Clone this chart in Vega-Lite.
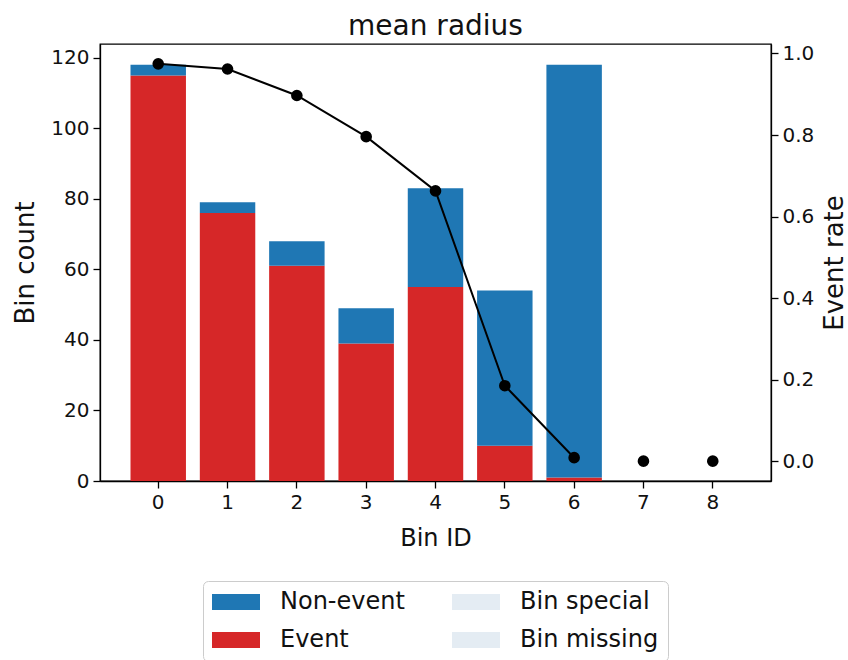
{
  "$schema": "https://vega.github.io/schema/vega-lite/v6.json",
  "width": 671,
  "height": 437,
  "autosize": {"type": "none"},
  "padding": {"left": 100, "top": 44, "right": 77, "bottom": 179},
  "background": "white",
  "config": {
    "font": "DejaVu Sans",
    "view": {"stroke": "#000", "strokeWidth": 1.3},
    "axis": {
      "grid": false,
      "domainColor": "#000",
      "domainWidth": 1.3,
      "tickColor": "#000",
      "tickWidth": 1.3,
      "tickSize": 7,
      "labelColor": "#111",
      "titleColor": "#111",
      "labelFontSize": 20,
      "titleFontSize": 26,
      "titleFontWeight": "normal",
      "labelPadding": 4,
      "labelFont": "DejaVu Sans",
      "titleFont": "DejaVu Sans"
    }
  },
  "title": {"text": "mean radius", "fontSize": 28, "fontWeight": "normal", "color": "#111", "font": "DejaVu Sans", "offset": 2},
  "datasets": {
    "counts": [
      {"bin": 0, "type": "Event", "count": 115},
      {"bin": 0, "type": "Non-event", "count": 3},
      {"bin": 1, "type": "Event", "count": 76},
      {"bin": 1, "type": "Non-event", "count": 3},
      {"bin": 2, "type": "Event", "count": 61},
      {"bin": 2, "type": "Non-event", "count": 7},
      {"bin": 3, "type": "Event", "count": 39},
      {"bin": 3, "type": "Non-event", "count": 10},
      {"bin": 4, "type": "Event", "count": 55},
      {"bin": 4, "type": "Non-event", "count": 28},
      {"bin": 5, "type": "Event", "count": 10},
      {"bin": 5, "type": "Non-event", "count": 44},
      {"bin": 6, "type": "Event", "count": 1},
      {"bin": 6, "type": "Non-event", "count": 117}
    ],
    "rates": [
      {"bin": 0, "rate": 0.9746},
      {"bin": 1, "rate": 0.962},
      {"bin": 2, "rate": 0.897},
      {"bin": 3, "rate": 0.796},
      {"bin": 4, "rate": 0.663},
      {"bin": 5, "rate": 0.185},
      {"bin": 6, "rate": 0.0085},
      {"bin": 7, "rate": 0},
      {"bin": 8, "rate": 0}
    ]
  },
  "resolve": {"scale": {"y": "independent"}},
  "layer": [
    {
      "data": {"name": "counts"},
      "mark": {"type": "bar"},
      "encoding": {
        "x": {
          "field": "bin", "type": "ordinal",
          "scale": {"domain": [0, 1, 2, 3, 4, 5, 6, 7, 8], "paddingInner": 0.2, "paddingOuter": 0.44},
          "axis": {"title": "Bin ID", "labelAngle": 0, "titleFontSize": 24, "titlePadding": 14}
        },
        "y": {
          "field": "count", "type": "quantitative", "stack": "zero",
          "scale": {"domain": [0, 123.9], "nice": false},
          "axis": {"title": "Bin count", "values": [0, 20, 40, 60, 80, 100, 120], "titlePadding": 12}
        },
        "order": {"field": "type", "sort": "ascending"},
        "color": {
          "field": "type", "type": "nominal",
          "scale": {
            "domain": ["Non-event", "Event", "Bin special", "Bin missing"],
            "range": ["#1f77b4", "#d62728", "#e4ecf3", "#e4ecf3"]
          },
          "legend": {
            "title": null,
            "orient": "none",
            "legendX": 103,
            "legendY": 537,
            "columns": 2,
            "gridAlign": "each",
            "symbolType": "M-3,-1H3V1H-3Z",
            "symbolSize": 256,
            "symbolOffset": 12,
            "symbolStrokeWidth": 0,
            "symbolOpacity": 1,
            "labelFontSize": 24,
            "labelFont": "DejaVu Sans",
            "labelColor": "#111",
            "labelOffset": 32,
            "labelLimit": 400,
            "columnPadding": 47,
            "rowPadding": 14,
            "padding": 9,
            "strokeColor": "#cccccc",
            "fillColor": "#ffffff",
            "cornerRadius": 5
          }
        }
      }
    },
    {
      "data": {"name": "rates"},
      "encoding": {
        "x": {"field": "bin", "type": "ordinal"},
        "y": {
          "field": "rate", "type": "quantitative",
          "scale": {"domain": [-0.0487, 1.0233], "nice": false, "zero": false},
          "axis": {"orient": "right", "title": "Event rate", "values": [0, 0.2, 0.4, 0.6, 0.8, 1.0], "format": ".1f", "titleAngle": 270, "titleBaseline": "top", "titlePadding": 8}
        }
      },
      "layer": [
        {
          "transform": [{"filter": "datum.bin <= 6"}],
          "mark": {"type": "line", "color": "#000", "strokeWidth": 2}
        },
        {
          "mark": {"type": "point", "filled": true, "color": "#000", "opacity": 1, "size": 135}
        }
      ]
    }
  ]
}
